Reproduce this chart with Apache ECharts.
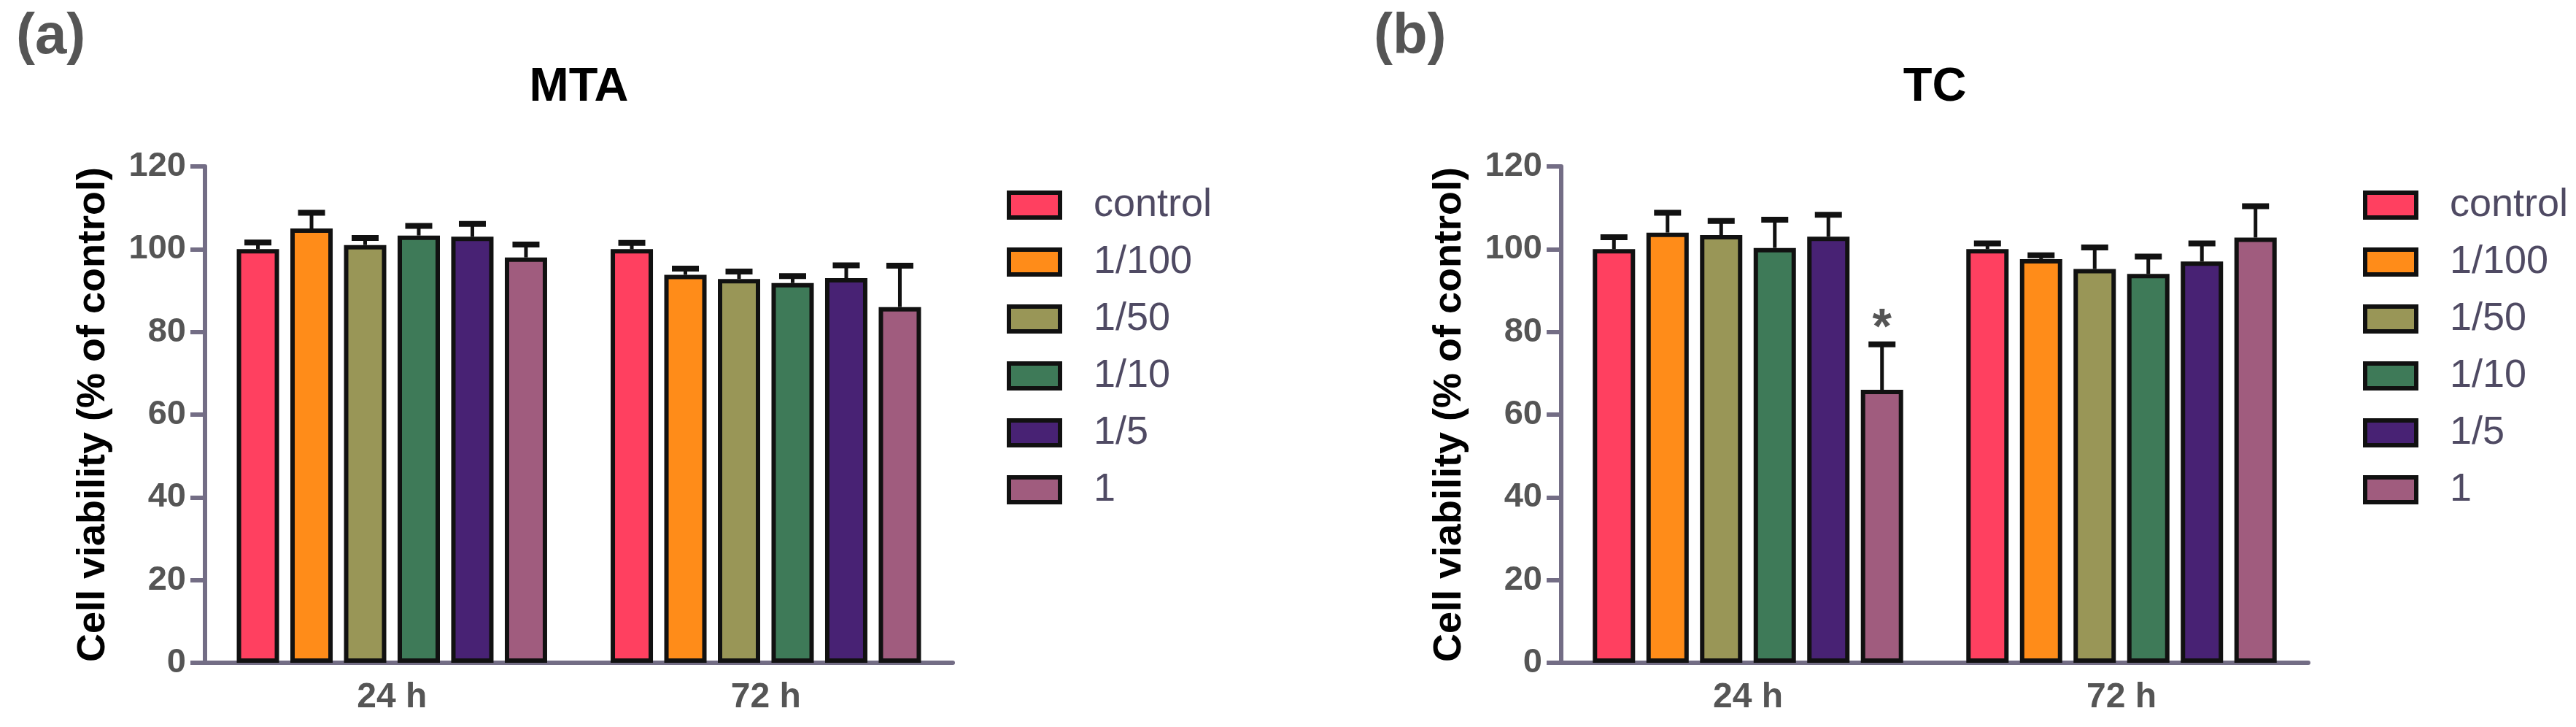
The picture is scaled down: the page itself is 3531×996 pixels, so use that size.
<!DOCTYPE html>
<html>
<head>
<meta charset="utf-8">
<title>Cell viability - MTA / TC</title>
<script src="https://cdn.jsdelivr.net/npm/echarts@6/dist/echarts.min.js"></script>
<style>
html, body { margin: 0; padding: 0; background: #fff; }
#chart { width: 3531px; height: 996px; }
</style>
</head>
<body>
<div id="chart"></div>
<script>
// x axis categories
var timePoints = ['24 h', '72 h'];
// dilution groups (legend order)
var doses = ['control', '1/100', '1/50', '1/10', '1/5', '1'];
var doseColors = ['#ff4060', '#ff8c19', '#999657', '#3e7a58', '#482274', '#a05c7e'];
// y axis ticks
var yTicks = [0, 20, 40, 60, 80, 100, 120];

// MTA: mean viability per dose, [24 h, 72 h]
var mtaMean = [[100, 100], [105, 93.8], [101, 92.8], [103.3, 91.8], [103, 93], [98, 86]];
// MTA: upper error (SD)
var mtaErr = [[1.6, 1.5], [3.8, 1.5], [1.7, 1.8], [2.3, 1.7], [3.1, 3.1], [3.1, 10]];

// TC: mean viability per dose, [24 h, 72 h]
var tcMean = [[100, 100], [104, 97.6], [103.4, 95.2], [100.3, 94], [103, 97], [66, 102.8]];
// TC: upper error (SD)
var tcErr = [[2.9, 1.4], [4.8, 0.9], [3.4, 5.2], [6.8, 4.2], [5.3, 4.4], [11, 7.6]];

// significance marks: [dose index, time index]
var mtaStars = [];
var tcStars = [[5, 0]];

// layout constants
var FONT = "'Liberation Sans', Arial, sans-serif";
var AXIS_COLOR = '#736d85';
var BAR_W = 58;
var BAR_GAP = 0.267;
var CAP_W = 37;

var panels = [
    { title: 'MTA', tag: '(a)', mean: mtaMean, err: mtaErr, stars: mtaStars, left: 281, width: 1025, legendLeft: 1375, tagLeft: 22 },
    { title: 'TC', tag: '(b)', mean: tcMean, err: tcErr, stars: tcStars, left: 2140, width: 1024, legendLeft: 3234, tagLeft: 1883 }
];

function isStar(stars, d, t) {
    for (var i = 0; i < stars.length; i++) {
        if (stars[i][0] === d && stars[i][1] === t) return 1;
    }
    return 0;
}

/** error bar: only the upper half is visible above the bar */
function renderErr(params, api) {
    var t = api.value(0), m = api.value(1), e = api.value(2), d = api.value(3), s = api.value(4);
    var base = api.coord([t, m]);
    var top = api.coord([t, m + e]);
    var x = base[0] + (d - (doses.length - 1) / 2) * BAR_W * (1 + BAR_GAP);
    var children = [
        { type: 'line', shape: { x1: x, y1: base[1], x2: x, y2: top[1] }, style: { stroke: '#111', lineWidth: 5 } },
        { type: 'line', shape: { x1: x - CAP_W / 2, y1: top[1], x2: x + CAP_W / 2, y2: top[1] }, style: { stroke: '#111', lineWidth: 8 } }
    ];
    if (s) {
        children.push({
            type: 'text', x: x, y: top[1] - 20,
            style: { text: '*', fontSize: 68, fontWeight: 'bold', fontFamily: FONT, fill: '#555', align: 'center', verticalAlign: 'middle' }
        });
    }
    return { type: 'group', children: children };
}

var option = {
    backgroundColor: '#fff',
    animation: false,
    title: [],
    legend: [],
    grid: [],
    xAxis: [],
    yAxis: [],
    series: []
};

panels.forEach(function (p, pi) {
    option.title.push({
        text: p.tag, left: p.tagLeft, top: 12, padding: 0,
        textStyle: { fontSize: 78, fontWeight: 'bold', color: '#555', fontFamily: FONT }
    });
    option.title.push({
        text: p.title, left: p.left + p.width / 2, top: 88, padding: 0, textAlign: 'center',
        textStyle: { fontSize: 65, fontWeight: 'bold', color: '#000', fontFamily: FONT }
    });
    option.legend.push({
        data: doses, orient: 'vertical', left: p.legendLeft, top: 249,
        itemWidth: 70, itemHeight: 34, itemGap: 24, icon: 'rect', selectedMode: false,
        itemStyle: { borderColor: '#111', borderWidth: 6 },
        textStyle: { fontSize: 54, lineHeight: 54, color: '#4f4a63', fontFamily: FONT, padding: [0, 0, 0, 41] }
    });
    option.grid.push({ left: p.left, width: p.width, top: 228, height: 680 });
    option.xAxis.push({
        type: 'category', gridIndex: pi, data: timePoints,
        axisLine: { lineStyle: { color: AXIS_COLOR, width: 6 } },
        axisTick: { alignWithLabel: true, length: 19, lineStyle: { color: AXIS_COLOR, width: 4 } },
        axisLabel: { margin: 24, fontSize: 48, fontWeight: 'bold', color: '#555', fontFamily: FONT }
    });
    option.yAxis.push({
        type: 'value', gridIndex: pi,
        min: yTicks[0], max: yTicks[yTicks.length - 1], interval: yTicks[1] - yTicks[0],
        name: 'Cell viability (% of control)', nameLocation: 'middle', nameRotate: 90, nameGap: 126,
        nameTextStyle: { fontSize: 54, fontWeight: 'bold', color: '#000', fontFamily: FONT },
        axisLine: { show: true, lineStyle: { color: AXIS_COLOR, width: 6 } },
        axisTick: { show: true, length: 20, lineStyle: { color: AXIS_COLOR, width: 6 } },
        axisLabel: { margin: 26, fontSize: 47, fontWeight: 'bold', color: '#555', fontFamily: FONT },
        splitLine: { show: false }
    });

    var errData = [];
    doses.forEach(function (name, d) {
        option.series.push({
            name: name, type: 'bar', xAxisIndex: pi, yAxisIndex: pi,
            data: p.mean[d], barWidth: BAR_W, barGap: (BAR_GAP * 100) + '%',
            itemStyle: { color: doseColors[d], borderColor: '#111', borderWidth: 6 },
            z: 2
        });
        timePoints.forEach(function (tp, t) {
            errData.push([t, p.mean[d][t], p.err[d][t], d, isStar(p.stars, d, t)]);
        });
    });
    option.series.push({
        name: p.title + ' error', type: 'custom', xAxisIndex: pi, yAxisIndex: pi,
        renderItem: renderErr, data: errData, encode: { x: 0, y: 1 }, z: 3
    });
});

var myChart = echarts.init(document.getElementById('chart'));
myChart.setOption(option);
</script>
</body>
</html>
